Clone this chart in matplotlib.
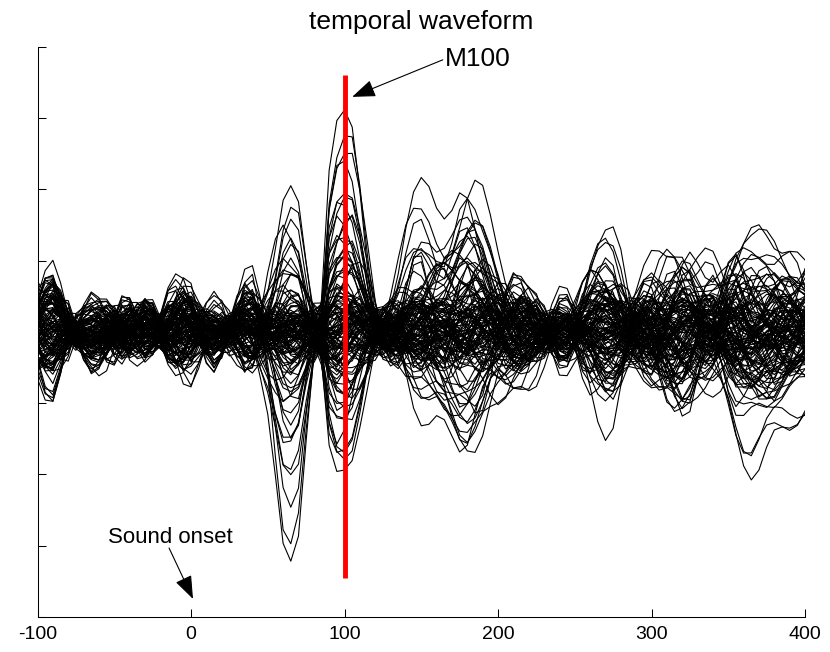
import numpy as np
import matplotlib
matplotlib.use("Agg")
import matplotlib.pyplot as plt

plt.rcParams['font.family'] = ['Liberation Sans', 'DejaVu Sans']
plt.rcParams['axes.unicode_minus'] = False

# ---------------- data ----------------
time_ms = list(range(-100, 401, 5))          # sample times (ms)
x_ticks = [-100, 0, 100, 200, 300, 400]
y_ticks = [-4, -3, -2, -1, 0, 1, 2, 3, 4]

# component waveforms (time -> normalised value, 0 elsewhere)
m50_wave = {30: -0.05, 35: -0.1, 40: -0.08, 45: 0.08, 50: 0.3, 55: 0.62, 60: 0.93,
            65: 1.0, 70: 0.88, 75: 0.48, 80: 0.12}
m100_wave = {85: 0.12, 90: 0.72, 95: 0.95, 100: 1.0, 105: 0.94, 110: 0.68, 115: 0.36,
             120: 0.08, 125: -0.1, 130: -0.18, 135: -0.18, 140: -0.13, 145: -0.07, 150: -0.02}
late150_wave = {125: 0.05, 130: 0.2, 135: 0.45, 140: 0.75, 145: 0.95, 150: 1.0, 155: 0.9,
                160: 0.72, 165: 0.62, 170: 0.68, 175: 0.85, 180: 0.92, 185: 0.85, 190: 0.65,
                195: 0.4, 200: 0.18, 205: 0.02, 210: -0.08, 215: -0.1, 220: -0.05}
late180_wave = {155: 0.1, 160: 0.3, 165: 0.6, 170: 0.85, 175: 0.98, 180: 1.0, 185: 0.9,
                190: 0.7, 195: 0.45, 200: 0.22, 205: 0.05, 210: -0.05, 215: -0.05}
late210_wave = {190: 0.15, 195: 0.4, 200: 0.7, 205: 0.92, 210: 1.0, 215: 0.9, 220: 0.65,
                225: 0.35, 230: 0.1, 275: -0.05, 280: -0.2, 285: -0.45, 290: -0.65,
                295: -0.72, 300: -0.62, 305: -0.4, 310: -0.15}
late270_wave = {250: 0.2, 255: 0.5, 260: 0.8, 265: 0.97, 270: 1.0, 275: 0.92, 280: 0.72,
                285: 0.45, 290: 0.2, 295: 0.05}
late362_wave = {340: 0.12, 345: 0.35, 350: 0.62, 355: 0.88, 360: 1.0, 365: 0.97, 370: 0.85,
                375: 0.75, 380: 0.7, 385: 0.68, 390: 0.66, 395: 0.64, 400: 0.62}
sustained_wave = {295: 0.1, 300: 0.3, 305: 0.55, 310: 0.78, 315: 0.92, 320: 1.0, 325: 0.95,
                  330: 0.82, 335: 0.7, 340: 0.66, 345: 0.7, 350: 0.8, 355: 0.9, 360: 0.97,
                  365: 1.0, 370: 1.02, 375: 0.98, 380: 0.9, 385: 0.85, 390: 0.85, 395: 0.86,
                  400: 0.88}

# ongoing background activity (one value per sample, -100 .. 400 ms)
bg_alpha = [0.7, 0.85, 0.9, 0.65, 0.3, -0.15, -0.4, -0.5, -0.45, -0.3,
            -0.1, 0.15, 0.35, 0.45, 0.4, 0.2, 0.0, -0.2, -0.3, -0.3,
            -0.2, 0.0, 0.15, 0.25, 0.25, 0.15, 0.0, -0.15, -0.25, -0.25,
            -0.15, 0.0, 0.12, 0.2, 0.18, 0.08, -0.05, -0.15, -0.2, -0.15,
            -0.05, 0.08, 0.18, 0.2, 0.12, 0.0, -0.12, -0.2, -0.2, -0.1,
            0.05, 0.2, 0.3, 0.3, 0.2, 0.05, -0.1, -0.25, -0.35, -0.35,
            -0.25, -0.05, 0.15, 0.3, 0.35, 0.3, 0.15, -0.05, -0.2, -0.3,
            -0.3, -0.2, -0.05, 0.1, 0.25, 0.35, 0.35, 0.25, 0.1, -0.1,
            -0.3, -0.4, -0.45, -0.4, -0.25, -0.05, 0.15, 0.35, 0.45, 0.45,
            0.35, 0.15, -0.05, -0.25, -0.4, -0.45, -0.4, -0.25, -0.05, 0.15,
            0.3]
bg_slow = [-0.35, -0.3, -0.15, 0.05, 0.12, 0.05, -0.05, -0.1, -0.05, 0.1,
           0.25, 0.35, 0.3, 0.15, 0.0, -0.05, 0.1, 0.4, 0.75, 0.95,
           0.8, 0.4, 0.05, -0.15, -0.05, 0.25, 0.6, 0.9, 0.85, 0.5,
           0.1, -0.1, -0.15, -0.05, 0.1, 0.15, 0.1, -0.05, -0.15, -0.1,
           0.05, 0.2, 0.3, 0.25, 0.1, -0.05, -0.1, 0.0, 0.2, 0.4,
           0.45, 0.3, 0.05, -0.15, -0.25, -0.2, 0.0, 0.25, 0.45, 0.5,
           0.4, 0.15, -0.1, -0.3, -0.35, -0.2, 0.0, 0.2, 0.35, 0.4,
           0.3, 0.1, -0.15, -0.35, -0.45, -0.4, -0.2, 0.05, 0.3, 0.45,
           0.5, 0.4, 0.2, 0.0, -0.15, -0.2, -0.1, 0.1, 0.3, 0.4,
           0.3, 0.05, -0.2, -0.4, -0.45, -0.3, -0.05, 0.2, 0.4, 0.45,
           0.35]
bg_fast = [0.3, -0.4, -0.6, -0.1, 0.4, 0.3, -0.2, -0.4, 0.0, 0.4,
           0.3, -0.2, -0.45, -0.1, 0.35, 0.4, -0.05, -0.4, -0.3, 0.2,
           0.45, 0.15, -0.3, -0.4, 0.0, 0.4, 0.3, -0.15, -0.4, -0.15,
           0.3, 0.4, 0.05, -0.35, -0.35, 0.1, 0.4, 0.2, -0.25, -0.4,
           -0.05, 0.35, 0.35, -0.05, -0.4, -0.25, 0.2, 0.45, 0.15, -0.3,
           -0.4, 0.0, 0.4, 0.3, -0.15, -0.45, -0.2, 0.3, 0.45, 0.05,
           -0.35, -0.35, 0.1, 0.45, 0.25, -0.25, -0.45, -0.1, 0.35, 0.4,
           -0.05, -0.4, -0.3, 0.15, 0.45, 0.2, -0.3, -0.45, -0.05, 0.4,
           0.35, -0.1, -0.45, -0.25, 0.2, 0.45, 0.15, -0.3, -0.4, 0.0,
           0.4, 0.3, -0.15, -0.45, -0.2, 0.3, 0.45, 0.05, -0.35, -0.35,
           0.1]
bg_mid = [-0.2, 0.1, 0.35, 0.4, 0.2, -0.1, -0.35, -0.4, -0.2, 0.1,
          0.35, 0.4, 0.2, -0.1, -0.35, -0.4, -0.2, 0.1, 0.35, 0.4,
          0.2, -0.1, -0.35, -0.4, -0.2, 0.1, 0.35, 0.4, 0.2, -0.1,
          -0.3, -0.35, -0.15, 0.15, 0.35, 0.3, 0.05, -0.25, -0.4, -0.3,
          0.0, 0.3, 0.4, 0.25, -0.05, -0.3, -0.35, -0.15, 0.15, 0.35,
          0.3, 0.05, -0.25, -0.4, -0.25, 0.05, 0.3, 0.4, 0.2, -0.1,
          -0.35, -0.4, -0.15, 0.15, 0.4, 0.35, 0.1, -0.2, -0.4, -0.3,
          0.0, 0.3, 0.4, 0.2, -0.1, -0.35, -0.35, -0.1, 0.2, 0.4,
          0.35, 0.1, -0.2, -0.4, -0.3, 0.0, 0.3, 0.4, 0.2, -0.1,
          -0.35, -0.4, -0.15, 0.15, 0.4, 0.35, 0.05, -0.25, -0.4, -0.25,
          0.05]
bg_beta = [0.1, 0.4, 0.3, -0.1, -0.4, -0.3, 0.0, 0.3, 0.35, 0.05,
           -0.3, -0.4, -0.1, 0.25, 0.45, 0.2, -0.2, -0.45, -0.25, 0.1,
           0.35, 0.3, -0.05, -0.35, -0.4, -0.05, 0.3, 0.4, 0.1, -0.25,
           -0.4, -0.15, 0.2, 0.4, 0.25, -0.1, -0.35, -0.3, 0.05, 0.35,
           0.35, 0.0, -0.3, -0.4, -0.1, 0.25, 0.4, 0.2, -0.15, -0.4,
           -0.3, 0.05, 0.35, 0.35, 0.0, -0.35, -0.4, -0.05, 0.3, 0.4,
           0.15, -0.2, -0.45, -0.25, 0.1, 0.4, 0.3, -0.05, -0.35, -0.35,
           0.0, 0.35, 0.4, 0.1, -0.25, -0.4, -0.15, 0.2, 0.4, 0.25,
           -0.1, -0.4, -0.3, 0.05, 0.35, 0.35, 0.0, -0.35, -0.4, -0.05,
           0.3, 0.4, 0.1, -0.25, -0.4, -0.2, 0.15, 0.4, 0.3, -0.05,
           -0.35]
bg_wander = [0.3, 0.4, 0.4, 0.3, 0.15, 0.0, -0.2, -0.35, -0.45, -0.45,
             -0.35, -0.2, 0.0, 0.2, 0.35, 0.45, 0.45, 0.35, 0.15, -0.05,
             -0.25, -0.4, -0.5, -0.5, -0.4, -0.25, -0.05, 0.15, 0.3, 0.4,
             0.4, 0.35, 0.2, 0.05, -0.1, -0.25, -0.35, -0.4, -0.35, -0.25,
             -0.1, 0.05, 0.2, 0.35, 0.45, 0.5, 0.45, 0.3, 0.1, -0.1,
             -0.3, -0.45, -0.5, -0.45, -0.3, -0.1, 0.1, 0.3, 0.45, 0.5,
             0.45, 0.3, 0.1, -0.1, -0.3, -0.4, -0.45, -0.4, -0.25, -0.05,
             0.15, 0.35, 0.5, 0.55, 0.5, 0.35, 0.15, -0.05, -0.25, -0.4,
             -0.5, -0.5, -0.4, -0.25, -0.05, 0.15, 0.3, 0.4, 0.45, 0.4,
             0.25, 0.05, -0.15, -0.35, -0.5, -0.55, -0.5, -0.35, -0.15, 0.05,
             0.25]

# per-channel amplitudes of each component (120 sensors)
m50_gain = [-3.27, -2.85, -2.42, -2.2, -1.95, -1.7, -1.5, -1.35, -1.2, -1.05,
            -0.9, -0.8, -0.7, -0.6, -0.5, -0.45, -0.4, -0.35, -0.3, -0.25,
            2.0, 1.66, 1.5, 1.35, 1.2, 1.05, 0.95, 0.85, 0.75, 0.65,
            0.55, 0.5, 0.4, 0.35, 0.3, 0.25, 0.2, -0.2, 0.15, -0.15,
            0.1, -0.1, 0.05, -0.05, 0.0, 0.12, -0.12, 0.22, -0.22, 0.08,
            -0.08, 0.18, -0.18, 0.28, -0.28, 0.03, -0.03, 0.14, -0.16, 0.06,
            -1.1, -0.95, 0.9, 0.7, -0.65, 0.45, -0.55, 0.6, -0.85, 1.1,
            -0.15, 0.1, -0.2, 0.25, -0.05, 0.02, -0.1, 0.16, -0.26, 0.2,
            0.1, -0.15, 0.2, -0.05, 0.0, 0.12, -0.2, 0.05, -0.1, 0.18,
            -0.12, 0.08, -0.25, 0.15, 0.02, -0.06, 0.22, -0.18, 0.1, -0.02,
            0.05, -0.1, 0.14, -0.22, 0.3, -0.3, 0.0, 0.08, -0.14, 0.2,
            -0.04, 0.16, -0.08, 0.26, -0.2, 0.1, -0.16, 0.04, 0.12, -0.1]
m100_gain = [3.05, 2.6, 2.75, 2.3, 2.0, 1.85, 1.4, 1.6, 1.1, 1.3,
             0.8, 1.0, 0.5, 0.75, 0.4, 0.6, 0.2, 0.45, 0.1, 0.3,
             -2.05, -1.8, -1.55, -1.7, -1.1, -1.3, -0.9, -1.0, -0.6, -0.8,
             -0.5, -0.65, -0.3, -0.45, -0.2, -0.35, 0.3, 0.25, -0.25, 0.35,
             0.15, -0.2, 0.4, 0.1, -0.15, 0.05, 0.5, -0.3, 0.2, -0.1,
             0.25, -0.4, 0.0, -0.05, 0.12, 0.55, -0.5, 0.3, 0.08, -0.22,
             1.2, 0.9, -1.2, -0.7, 0.85, -0.55, 0.65, -0.75, 0.95, -1.15,
             1.5, 1.7, 1.25, -0.95, 0.7, 1.0, -0.8, -0.6, 0.9, 0.45,
             -0.1, 0.2, -0.15, 0.1, 0.25, -0.05, 0.15, -0.25, 0.05, -0.2,
             0.18, -0.1, 0.3, -0.12, 0.0, 0.22, -0.3, 0.12, -0.06, 0.08,
             0.35, -0.2, 0.05, 0.28, -0.35, 0.4, 0.1, -0.15, 0.2, -0.28,
             0.12, -0.22, 0.16, -0.3, 0.24, -0.08, 0.3, -0.02, -0.18, 0.14]
late150_gain = [0.6, 0.9, 0.2, 0.5, -0.3, 0.4, 0.1, 0.7, -0.2, 0.3,
                -0.1, 0.2, 0.0, -0.3, 0.15, -0.05, 0.25, -0.15, 0.1, 0.05,
                -1.3, -1.1, -0.6, -0.95, -0.4, -0.8, -0.2, -0.5, 0.1, -0.3,
                2.1, 1.6, 1.4, 1.2, 1.0, 0.9, 0.8, 0.65, 0.55, 0.45,
                0.35, -0.25, 0.3, -0.35, 0.2, -0.45, 0.12, -0.55, 0.05, -0.65,
                0.15, -0.1, 0.4, -0.2, 0.28, 0.0, -0.3, 0.18, -0.08, 0.22,
                0.5, 0.3, -0.7, -0.4, 0.6, -0.15, 0.35, -0.25, 0.45, -0.5,
                0.75, 1.05, 0.85, -0.6, 0.3, 0.5, -0.35, -0.2, 0.4, 0.2,
                0.2, -0.1, 0.05, 0.3, -0.2, 0.15, 0.0, -0.3, 0.25, -0.05,
                0.1, -0.25, 0.35, -0.15, 0.05, 0.2, -0.1, 0.3, -0.2, 0.0,
                -0.15, 0.25, -0.05, 0.1, 0.4, -0.3, 0.15, -0.2, 0.05, 0.3,
                0.0, -0.2, 0.25, -0.1, 0.15, -0.35, 0.1, 0.2, -0.05, -0.15]
late180_gain = [0.3, -0.2, 0.5, 0.1, 0.4, -0.1, 0.25, 0.6, 0.0, 0.35,
                0.1, -0.3, 0.2, 0.15, -0.15, 0.05, 0.3, -0.05, 0.2, -0.2,
                -0.4, -0.7, -0.9, -0.6, -0.5, -0.5, -0.3, -1.0, -0.2, -0.7,
                0.0, 0.4, 0.5, 0.2, 0.5, -0.1, 0.6, 0.35, 1.0, 0.25,
                -0.25, 0.15, -0.35, 0.1, -0.45, 0.3, -0.1, 0.2, -0.6, 0.05,
                0.4, -0.2, 0.1, -0.5, 0.25, -0.3, 0.15, -0.4, 0.32, -0.12,
                0.2, 0.45, -0.55, -0.85, 0.3, -0.2, 0.5, -0.35, 0.25, -0.65,
                0.55, 0.7, 0.4, -0.45, 0.85, 0.2, -0.75, -0.3, 0.6, 0.1,
                -0.1, 0.2, 0.05, -0.25, 0.15, 0.3, -0.15, 0.1, -0.3, 0.0,
                0.25, -0.05, -0.2, 0.1, 0.35, -0.1, 0.0, -0.25, 0.15, 0.2,
                0.05, -0.3, 0.2, 0.15, -0.1, 0.0, 0.3, -0.15, -0.05, 0.1,
                -0.2, 0.1, -0.05, 0.25, -0.15, 0.2, -0.3, 0.05, 0.15, -0.1]
late210_gain = [0.2, 0.4, -0.3, 0.1, 0.5, -0.2, 0.3, -0.1, 0.35, 0.0,
                -0.15, 0.25, 0.1, -0.25, 0.2, 0.05, -0.1, 0.3, -0.05, 0.15,
                -0.6, -0.3, -1.1, -0.5, -0.8, -0.2, -0.9, -0.4, 0.1, -0.35,
                0.5, 0.8, 0.2, 0.7, 0.4, 0.6, -0.2, 0.3, 0.45, 0.1,
                0.2, -0.3, 0.1, -0.4, 0.25, -0.15, 0.35, -0.5, 0.05, -0.2,
                -0.1, 0.3, -0.25, 0.15, -0.35, 0.4, -0.05, 0.2, -0.3, 0.1,
                0.3, -0.45, 0.55, -0.6, 0.25, -0.3, 0.4, -0.7, 0.15, 0.65,
                0.35, -0.2, 0.5, -0.55, 0.3, -0.4, 0.6, -0.25, 0.2, -0.1,
                0.15, -0.2, 0.25, 0.0, -0.1, 0.3, -0.25, 0.1, 0.05, -0.15,
                -0.05, 0.2, -0.3, 0.15, 0.1, -0.2, 0.25, 0.0, -0.1, 0.35,
                0.2, 0.0, -0.15, 0.3, -0.25, 0.1, -0.05, 0.2, -0.35, 0.05,
                -0.1, 0.25, 0.05, -0.2, 0.3, -0.05, 0.15, -0.3, 0.1, 0.0]
late270_gain = [0.5, -0.3, 0.8, 0.2, -0.6, 0.4, 0.1, -0.2, 0.3, 0.6,
                -0.1, 0.25, 0.0, -0.35, 0.15, 0.45, -0.25, 0.05, 0.35, -0.15,
                -0.7, 0.3, -1.1, -0.4, 0.2, -0.9, 0.1, -0.5, -0.9, 0.0,
                1.35, 0.9, 0.5, 1.1, 0.7, -0.2, 0.3, 0.8, 0.4, 0.6,
                -0.3, 0.2, -0.45, 0.1, -0.2, 0.35, -0.55, 0.15, -0.05, 0.25,
                0.3, -0.4, 0.2, -0.65, 0.1, -0.15, 0.45, -0.3, 0.55, -0.1,
                0.9, -0.8, 0.65, -1.0, 0.4, -0.5, 1.2, -0.6, 0.75, -0.35,
                0.2, -0.25, 0.6, -0.75, 0.35, -0.45, 0.5, -0.85, 0.1, 0.3,
                -0.2, 0.3, 0.1, -0.35, 0.2, 0.0, 0.4, -0.1, -0.25, 0.15,
                0.35, -0.3, 0.05, 0.25, -0.15, 0.45, -0.4, 0.1, 0.2, -0.05,
                0.0, 0.2, -0.25, 0.3, -0.45, 0.15, 0.05, -0.2, 0.35, -0.1,
                0.25, -0.15, 0.4, -0.3, 0.1, -0.05, 0.3, -0.35, 0.0, 0.2]
late362_gain = [-1.85, -0.5, -1.2, 0.3, -0.8, -1.6, 0.2, -0.4, -1.0, 0.1,
                -0.3, 0.2, -0.6, 0.0, -0.2, 0.4, -0.45, 0.1, -0.15, 0.3,
                0.6, -0.3, 0.9, 0.4, -0.7, 1.2, 0.1, 0.8, -0.5, 0.5,
                -0.2, 0.5, -0.9, 0.3, -0.35, 0.7, 0.3, 0.45, -0.6, 0.2,
                0.15, -0.25, 0.35, -0.4, 0.05, -0.55, 0.25, -0.15, 0.45, -0.3,
                -0.1, 0.3, -0.35, 0.2, -0.2, 0.1, -0.5, 0.4, -0.05, 0.25,
                -1.3, 0.7, -0.75, 1.0, -1.1, 0.55, -0.65, 0.9, -1.4, 0.35,
                -0.4, 0.6, -0.85, 0.2, -0.5, 0.75, -0.3, 0.5, -0.2, 0.4,
                0.2, -0.3, 0.1, 0.35, -0.15, 0.0, -0.4, 0.25, 0.05, -0.2,
                -0.35, 0.15, 0.4, -0.1, 0.3, -0.25, 0.05, 0.2, -0.45, 0.1,
                0.3, -0.05, -0.2, 0.15, 0.45, -0.35, 0.1, -0.15, 0.25, 0.0,
                -0.1, 0.35, -0.3, 0.05, -0.05, 0.2, 0.5, -0.4, 0.15, -0.25]
sustained_gain = [0.1, 0.3, -0.6, 0.5, -0.3, -0.1, 0.7, -0.2, 0.1, -0.5,
                  0.2, -0.1, 0.35, -0.3, 0.15, 0.05, -0.2, 0.25, 0.0, -0.15,
                  0.5, -0.7, 0.3, -0.9, 0.8, -0.4, 0.6, -0.5, 0.2, -1.0,
                  0.4, -0.3, 0.9, -0.6, 0.2, -0.45, 0.95, -0.2, 0.65, -0.8,
                  0.25, -0.1, -0.2, 0.3, -0.35, 0.1, 0.45, -0.3, -0.05, 0.2,
                  -0.25, 0.35, 0.15, -0.4, 0.3, -0.2, 0.05, -0.55, 0.4, -0.1,
                  0.6, -0.95, 1.0, -0.3, 0.75, -0.65, 0.2, -0.4, 0.85, -0.7,
                  0.95, -0.5, 0.3, -0.85, 0.55, 0.1, -0.6, 0.7, -0.35, 0.15,
                  -0.3, 0.2, 0.45, -0.1, 0.05, -0.4, 0.3, 0.15, -0.2, 0.35,
                  0.1, -0.25, 0.2, 0.4, -0.35, 0.0, -0.15, 0.3, 0.25, -0.45,
                  -0.05, 0.35, -0.3, 0.1, 0.2, 0.5, -0.2, -0.4, 0.05, 0.25,
                  0.3, -0.1, 0.15, -0.5, 0.4, -0.2, 0.1, 0.0, -0.3, 0.45]
alpha_gain = [0.3, -0.5, 0.1, 0.6, -0.2, 0.45, -0.35, 0.05, 0.55, -0.6,
              0.2, -0.1, 0.4, -0.45, 0.15, 0.5, -0.3, 0.25, -0.55, 0.0,
              -0.4, 0.35, -0.15, 0.6, -0.5, 0.1, 0.45, -0.25, 0.3, -0.05,
              0.5, -0.35, 0.2, -0.6, 0.05, 0.4, -0.2, 0.55, -0.45, 0.15,
              -0.1, 0.3, -0.5, 0.6, -0.3, 0.0, 0.45, -0.15, 0.25, -0.4,
              0.35, -0.55, 0.1, 0.2, -0.25, 0.5, -0.05, 0.4, -0.35, 0.55,
              -0.2, 0.15, 0.3, -0.4, 0.6, -0.45, 0.05, 0.25, -0.3, 0.35,
              0.45, -0.25, -0.6, 0.1, 0.2, -0.15, 0.5, -0.5, 0.0, 0.3,
              0.4, -0.3, 0.15, -0.5, 0.25, 0.55, -0.1, 0.35, -0.45, 0.0,
              -0.25, 0.5, -0.4, 0.2, 0.6, -0.15, 0.3, -0.55, 0.1, 0.45,
              0.05, -0.35, 0.45, -0.2, -0.5, 0.3, 0.15, -0.05, 0.4, -0.3,
              0.55, -0.1, 0.25, 0.35, -0.6, 0.0, -0.25, 0.5, -0.4, 0.2]
slow_gain = [-0.2, 0.3, 0.15, -0.1, 0.2, -0.3, 0.35, 0.1, -0.25, 0.3,
             0.85, -0.3, 0.05, 0.25, -0.4, 0.15, 0.3, -0.15, 0.6, -0.05,
             0.1, 0.4, -0.3, 0.2, 0.35, -0.2, 0.0, 0.4, -0.7, 0.25,
             -0.15, 0.5, 0.3, -0.25, 0.45, -0.1, 0.2, -0.35, 0.1, 0.7,
             0.3, -0.2, 0.15, 0.45, -0.3, 0.35, -0.05, 0.25, -0.45, 0.05,
             -0.35, 0.2, 0.4, -0.15, 0.0, 0.3, -0.25, 0.5, 0.15, -0.4,
             0.25, -0.05, 0.35, 0.1, -0.2, 0.4, -0.35, 0.05, 0.3, -0.1,
             0.15, 0.35, -0.15, 0.3, -0.55, 0.2, 0.1, -0.3, 0.45, -0.25,
             0.25, -0.1, 0.35, -0.3, 0.1, 0.2, -0.2, 0.0, 0.4, -0.35,
             -0.05, 0.3, -0.25, 0.15, -0.4, 0.35, 0.05, -0.15, 0.25, 0.1,
             0.2, -0.35, 0.0, 0.45, -0.1, -0.25, 0.3, 0.15, -0.3, 0.05,
             -0.2, 0.1, 0.25, -0.05, 0.35, -0.3, 0.2, -0.4, 0.0, 0.3]
fast_gain = [0.2, -0.15, 0.3, 0.05, -0.25, 0.1, -0.3, 0.25, -0.05, 0.15,
             -0.2, 0.3, -0.1, 0.2, 0.05, -0.3, 0.15, -0.25, 0.1, 0.35,
             0.1, -0.25, 0.2, -0.05, 0.3, -0.15, 0.25, 0.0, -0.35, 0.15,
             -0.1, 0.2, -0.3, 0.25, -0.05, 0.35, -0.2, 0.1, 0.3, -0.25,
             0.25, 0.05, -0.2, -0.15, 0.3, 0.1, -0.35, 0.2, 0.0, -0.1,
             0.15, -0.3, 0.05, 0.35, -0.2, -0.1, 0.25, -0.05, 0.2, 0.3,
             -0.25, 0.1, 0.15, -0.3, 0.2, 0.0, -0.15, 0.3, 0.05, -0.2,
             0.3, -0.1, 0.2, -0.25, 0.1, 0.25, -0.3, 0.15, -0.2, 0.05,
             -0.2, 0.1, 0.25, -0.3, 0.0, 0.2, -0.15, 0.3, -0.05, 0.15,
             0.3, -0.25, 0.05, 0.15, -0.35, 0.1, 0.2, -0.1, 0.25, -0.3,
             0.0, 0.25, -0.2, 0.35, 0.1, -0.3, 0.05, 0.2, -0.25, 0.15,
             -0.15, 0.3, 0.1, -0.05, 0.2, -0.2, 0.35, 0.0, 0.15, -0.25]
mid_gain = [-0.1, 0.25, 0.0, -0.3, 0.15, 0.35, -0.2, 0.05, 0.3, -0.15,
            0.2, -0.35, 0.1, 0.3, -0.05, -0.25, 0.35, 0.15, -0.3, 0.0,
            0.3, 0.05, -0.25, 0.15, -0.35, 0.2, 0.0, -0.1, 0.25, -0.3,
            -0.2, 0.3, 0.1, -0.15, 0.35, -0.3, 0.05, 0.25, -0.1, 0.2,
            0.35, -0.15, 0.25, 0.0, -0.3, 0.15, -0.2, 0.3, 0.1, -0.35,
            0.05, 0.2, -0.3, 0.25, 0.1, -0.15, 0.3, -0.25, 0.35, 0.0,
            -0.3, 0.15, 0.2, -0.05, -0.25, 0.3, 0.1, -0.35, 0.0, 0.25,
            0.1, -0.2, 0.35, 0.2, -0.1, -0.3, 0.25, 0.05, -0.15, 0.3,
            0.25, -0.1, -0.3, 0.2, 0.05, 0.3, -0.2, -0.05, 0.15, -0.35,
            0.1, 0.35, -0.15, -0.25, 0.3, 0.0, 0.2, -0.3, 0.05, 0.25,
            -0.35, 0.15, 0.3, -0.1, 0.0, -0.2, 0.35, 0.1, -0.25, 0.05,
            0.2, -0.3, 0.0, 0.35, -0.15, 0.25, -0.05, 0.3, -0.2, 0.1]
beta_gain = [0.2, -0.3, 0.1, 0.35, -0.15, 0.25, 0.0, -0.2, 0.3, -0.1,
             -0.25, 0.15, 0.3, -0.05, 0.2, -0.35, 0.1, 0.25, -0.15, 0.05,
             0.3, -0.1, -0.25, 0.2, 0.0, 0.35, -0.3, 0.15, 0.05, -0.2,
             -0.15, 0.25, 0.05, -0.3, 0.35, 0.1, -0.2, 0.0, 0.2, -0.35,
             0.1, 0.3, -0.15, 0.0, -0.25, 0.2, 0.35, -0.1, -0.3, 0.15,
             0.25, -0.2, 0.35, 0.05, -0.1, -0.3, 0.15, 0.3, 0.0, -0.25,
             -0.05, 0.2, -0.35, 0.3, 0.15, 0.0, -0.25, 0.1, 0.35, -0.15,
             0.3, 0.0, -0.2, -0.1, 0.25, 0.35, -0.3, 0.05, -0.15, 0.2,
             -0.3, 0.15, 0.2, -0.25, 0.05, -0.1, 0.3, -0.35, 0.1, 0.25,
             0.0, -0.2, 0.25, 0.35, -0.3, 0.1, -0.05, 0.2, -0.25, 0.15,
             0.35, -0.15, 0.0, -0.3, 0.2, 0.25, -0.1, -0.2, 0.3, 0.05,
             -0.1, 0.3, -0.25, 0.15, 0.0, -0.35, 0.2, 0.1, -0.05, 0.3]
wander_gain = [-0.3, 0.4, 0.2, -0.15, 0.35, 0.0, -0.4, 0.25, 0.1, -0.2,
               0.3, -0.05, -0.35, 0.45, 0.1, -0.25, 0.2, 0.0, -0.45, 0.35,
               0.15, -0.3, 0.4, 0.05, -0.2, 0.3, -0.1, -0.4, 0.25, 0.0,
               -0.25, 0.1, 0.35, -0.45, 0.2, 0.05, -0.3, 0.4, -0.05, 0.15,
               0.45, -0.2, 0.0, 0.3, -0.35, 0.15, 0.25, -0.1, 0.4, -0.4,
               0.05, 0.35, -0.25, -0.05, 0.3, -0.45, 0.1, 0.2, -0.3, 0.4,
               -0.15, 0.25, 0.45, -0.35, 0.0, 0.3, -0.2, -0.05, 0.35, 0.1,
               0.2, -0.4, 0.1, 0.25, -0.1, 0.45, -0.3, 0.0, 0.15, -0.25,
               0.35, 0.05, -0.2, 0.4, -0.3, 0.1, 0.2, -0.45, 0.0, 0.3,
               -0.4, 0.2, 0.15, -0.1, 0.45, -0.25, 0.0, 0.35, -0.15, 0.05,
               0.1, -0.35, 0.3, 0.2, -0.05, 0.4, -0.4, 0.15, 0.25, -0.2,
               -0.05, 0.3, -0.15, 0.35, -0.4, 0.0, 0.45, -0.25, 0.1, 0.2]

# annotation positions (data coordinates)
m100_latency = 100
m100_marker_span = (-3.46, 3.61)
m100_label_xy = (165.5, 3.83)
m100_arrow_tail = (164.0, 3.82)
m100_arrow_tip = (105.0, 3.30)
onset_label_xy = (-13.7, -2.965)
onset_arrow_tail = (-14.3, -3.035)
onset_arrow_tip = (1.3, -3.75)

# ---------------- build channel traces ----------------
def wave_from_dict(d):
    return np.array([d.get(t, 0.0) for t in time_ms])

components = [
    (wave_from_dict(m50_wave), m50_gain),
    (wave_from_dict(m100_wave), m100_gain),
    (wave_from_dict(late150_wave), late150_gain),
    (wave_from_dict(late180_wave), late180_gain),
    (wave_from_dict(late210_wave), late210_gain),
    (wave_from_dict(late270_wave), late270_gain),
    (wave_from_dict(late362_wave), late362_gain),
    (wave_from_dict(sustained_wave), sustained_gain),
    (np.array(bg_alpha), alpha_gain),
    (np.array(bg_slow), slow_gain),
    (np.array(bg_fast), fast_gain),
    (np.array(bg_mid), mid_gain),
    (np.array(bg_beta), beta_gain),
    (np.array(bg_wander), wander_gain),
]
n_ch = len(m50_gain)
for w, g in components:
    assert len(w) == len(time_ms), len(w)
    assert len(g) == n_ch, len(g)

W = np.vstack([w for w, _ in components])          # (k, T)
G = np.array([g for _, g in components]).T         # (n_ch, k)
traces = G @ W

# ---------------- plot ----------------
fig = plt.figure(figsize=(8.3, 6.52), dpi=100)
ax = fig.add_axes([0.0452, 0.0541, 0.9247, 0.8738])

for tr in traces:
    ax.plot(time_ms, tr, color='black', lw=0.8, zorder=2)

ax.plot([m100_latency, m100_latency], list(m100_marker_span), color='red', lw=3.5,
        zorder=5, solid_capstyle='butt')

ax.set_xlim(-100, 400)
ax.set_ylim(-4, 4)
ax.set_xticks(x_ticks)
ax.set_xticklabels([str(v) for v in x_ticks])
ax.set_yticks(y_ticks)
ax.set_yticklabels([])
ax.tick_params(direction='in', length=6, width=0.75, labelsize=14, pad=7,
               colors='black')
for s in ('top', 'right'):
    ax.spines[s].set_visible(False)
for s in ('left', 'bottom'):
    ax.spines[s].set_linewidth(0.75)

ax.set_title('temporal waveform', fontsize=19, pad=13)

arrow_style = dict(arrowstyle='-|>,head_length=0.8,head_width=0.3', color='black',
                   lw=0.8, shrinkA=0, shrinkB=0, mutation_scale=18)
ax.text(*m100_label_xy, 'M100', fontsize=19, ha='left', va='center')
ax.annotate('', xy=m100_arrow_tip, xytext=m100_arrow_tail, arrowprops=arrow_style,
            annotation_clip=False)
ax.text(*onset_label_xy, 'Sound onset', fontsize=16, ha='center', va='baseline')
ax.annotate('', xy=onset_arrow_tip, xytext=onset_arrow_tail, arrowprops=arrow_style,
            annotation_clip=False)

fig.savefig('out.png', dpi=100)
